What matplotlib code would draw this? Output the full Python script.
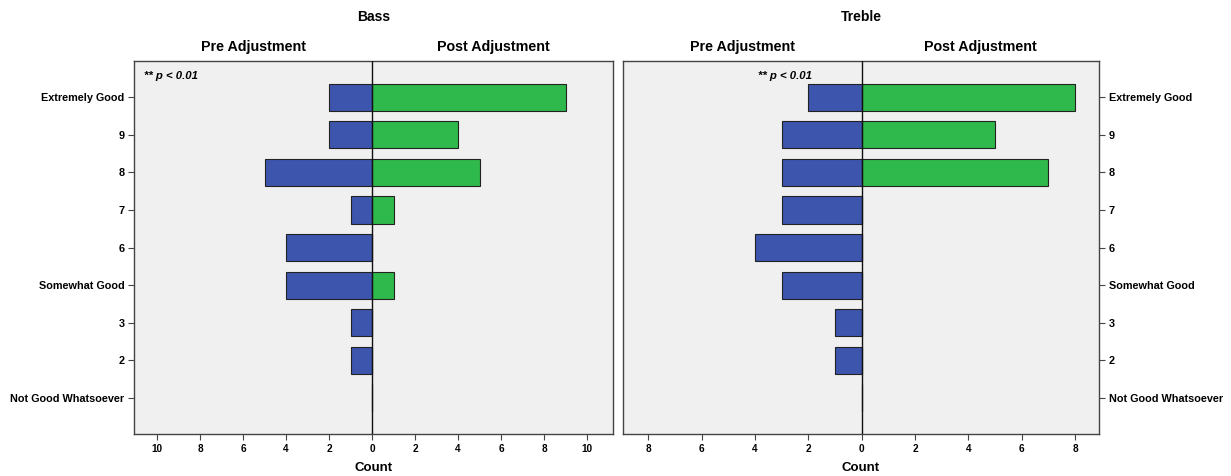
import matplotlib
matplotlib.use("Agg")
import matplotlib.pyplot as plt
import numpy as np

plt.rcParams['font.family'] = ['Liberation Sans Narrow', 'Liberation Sans', 'DejaVu Sans']

categories = ["Extremely Good", "9", "8", "7", "6", "Somewhat Good", "3", "2", "Not Good Whatsoever"]

bass_pre = [2, 2, 5, 1, 4, 4, 1, 1, 0]
bass_post = [9, 4, 5, 1, 0, 1, 0, 0, 0]

treble_pre = [2, 3, 3, 3, 4, 3, 1, 1, 0]
treble_post = [8, 5, 7, 0, 0, 0, 0, 0, 0]

bass_ticks = [10, 8, 6, 4, 2, 0, 2, 4, 6, 8, 10]
treble_ticks = [8, 6, 4, 2, 0, 2, 4, 6, 8]

BLUE = "#3e55ad"
GREEN = "#2fb84b"
PANEL = "#f0f0f0"
EDGE = "#222222"

fig = plt.figure(figsize=(12.31, 4.76), dpi=100)
fig.patch.set_facecolor("white")

ax_b = fig.add_axes([0.1089, 0.0882, 0.3891, 0.7836])
ax_t = fig.add_axes([0.5061, 0.0882, 0.3867, 0.7836])

ypos = np.arange(len(categories))[::-1]


def draw_panel(ax, pre, post, ticks, lim, title, side, note_x, note_ha):
    ax.set_facecolor(PANEL)
    ax.barh(ypos, -np.array(pre), height=0.72, color=BLUE, edgecolor=EDGE, linewidth=0.8, zorder=2)
    ax.barh(ypos, np.array(post), height=0.72, color=GREEN, edgecolor=EDGE, linewidth=0.8, zorder=2)
    ax.axvline(0, color="#111111", linewidth=1.0, zorder=3)
    ax.set_xlim(-lim[0], lim[1])
    ax.set_ylim(-0.97, 8.97)
    tick_pos = [-t for t in ticks[:len(ticks) // 2]] + ticks[len(ticks) // 2:]
    ax.set_xticks(tick_pos)
    ax.set_xticklabels([str(t) for t in ticks], fontsize=7.2, fontweight="bold")
    ax.set_yticks(ypos)
    ax.set_yticklabels(categories, fontsize=7.8, fontweight="bold")
    if side == "right":
        ax.yaxis.tick_right()
    for s in ax.spines.values():
        s.set_color("#444444")
        s.set_linewidth(1.0)
    ax.tick_params(axis="both", length=4, width=0.8, color="#444444", pad=3)
    ax.set_xlabel("Count", fontsize=9.5, fontweight="bold", labelpad=6)
    ax.text(0.5, 1.118, title, transform=ax.transAxes, ha="center", va="center",
            fontsize=10, fontweight="bold")
    ax.text(0.25, 1.037, "Pre Adjustment", transform=ax.transAxes, ha="center", va="center",
            fontsize=10.3, fontweight="bold")
    ax.text(0.75, 1.037, "Post Adjustment", transform=ax.transAxes, ha="center", va="center",
            fontsize=10.3, fontweight="bold")
    ax.text(note_x, 0.96, "** p < 0.01", transform=ax.transAxes, ha=note_ha, va="center",
            fontsize=8.2, fontweight="bold", style="italic")


draw_panel(ax_b, bass_pre, bass_post, bass_ticks, (11.07, 11.2), "Bass", "left", 0.02, "left")
draw_panel(ax_t, treble_pre, treble_post, treble_ticks, (8.95, 8.9), "Treble", "right", 0.397, "right")

fig.savefig("out.png", dpi=100)
